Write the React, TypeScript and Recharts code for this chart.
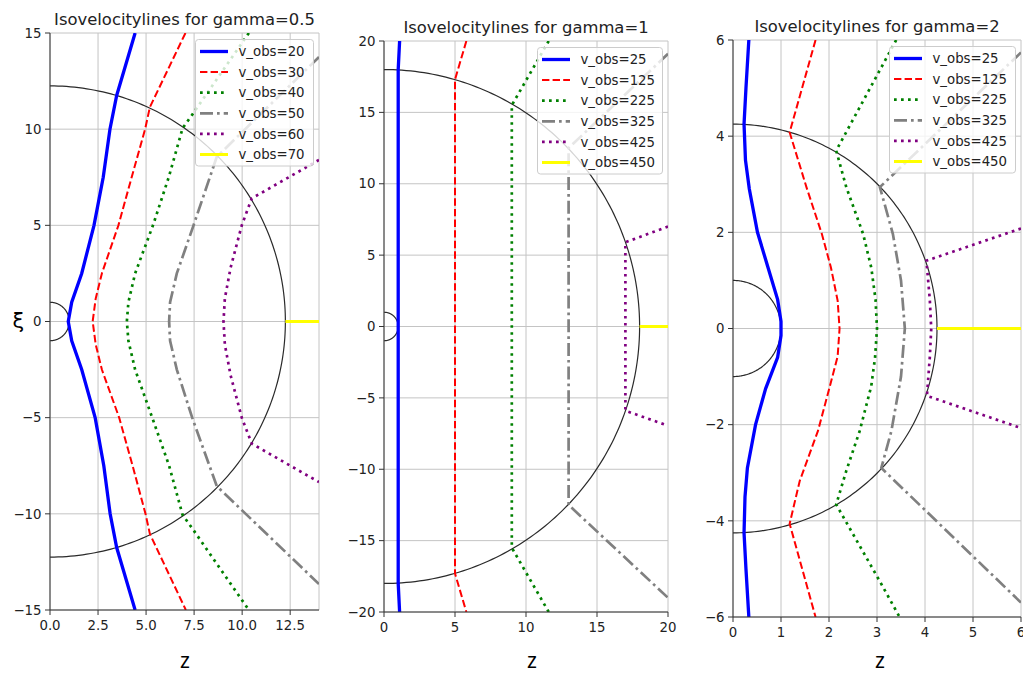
import React from 'react';
import { LineChart, Line, XAxis, YAxis, CartesianGrid, Legend } from 'recharts';

// ---------- gamma = 0.5 ----------
const G05_TITLE = 'Isovelocitylines for gamma=0.5';
const G05_XTICKS = [0, 2.5, 5, 7.5, 10, 12.5];
const G05_YTICKS = [-15, -10, -5, 0, 5, 10, 15];
const G05_LABELS = ['v_obs=20', 'v_obs=30', 'v_obs=40', 'v_obs=50', 'v_obs=60', 'v_obs=70'];
const G05_V20 = [[4.43, 15], [3.47, 11.75], [3.12, 10], [2.77, 7.5], [2.29, 5], [1.65, 2.5], [1.13, 1], [0.95, 0], [1.13, -1], [1.65, -2.5], [2.35, -5], [2.8, -7.5], [3.13, -10], [3.47, -11.75], [4.43, -15]];
const G05_V30 = [[7.05, 15], [5.2, 11.15], [4.95, 10], [4.25, 7.5], [3.56, 5], [2.7, 2.5], [2.38, 1.2], [2.22, 0], [2.38, -1.2], [2.7, -2.5], [3.6, -5], [4.3, -7.5], [4.97, -10], [5.2, -11.05], [7.07, -15]];
const G05_V40 = [[10.35, 15], [7.4, 10.75], [6.9, 10.05], [6.18, 7.5], [5.36, 5], [4.43, 2.5], [4.08, 1], [4.0, 0], [4.08, -1], [4.43, -2.5], [5.32, -5], [6.2, -7.5], [6.9, -10.05], [7.4, -10.75], [10.35, -15]];
const G05_V50 = [[14, 13.75], [8.68, 8.56], [7.47, 5], [6.6, 2.5], [6.25, 1], [6.2, 0], [6.25, -1], [6.6, -2.5], [7.4, -5], [8.68, -8.56], [14, -13.65]];
const G05_V60 = [[14, 8.4], [10.5, 6.4], [9.98, 5], [9.4, 2.8], [9.1, 1.2], [9.03, 0], [9.1, -1.2], [9.4, -2.8], [9.98, -5], [10.5, -6.35], [14, -8.35]];
const G05_V70 = [[12.25, 0], [14, 0]];
const G05_RADII = [1, 12.25];

// ---------- gamma = 1 ----------
const G1_TITLE = 'Isovelocitylines for gamma=1';
const G1_XTICKS = [0, 5, 10, 15, 20];
const G1_YTICKS = [-20, -15, -10, -5, 0, 5, 10, 15, 20];
const G1_LABELS = ['v_obs=25', 'v_obs=125', 'v_obs=225', 'v_obs=325', 'v_obs=425', 'v_obs=450'];
const G1_V25 = [[1.1, 20], [1.0, 18], [1.0, 0], [1.0, -18], [1.1, -20]];
const G1_V125 = [[5.8, 20], [5.0, 17.3], [5.0, -17.3], [5.8, -20]];
const G1_V225 = [[11.6, 20], [9.0, 15.5], [9.0, -15.5], [11.6, -20]];
const G1_V325 = [[20, 19.1], [13.0, 12.5], [13.0, -12.5], [20, -19.0]];
const G1_V425 = [[20, 7.0], [17.0, 5.9], [17.0, -5.9], [20, -6.95]];
const G1_V450 = [[18, 0], [20, 0]];
const G1_RADII = [1, 18];

// ---------- gamma = 2 ----------
const G2_TITLE = 'Isovelocitylines for gamma=2';
const G2_XTICKS = [0, 1, 2, 3, 4, 5, 6];
const G2_YTICKS = [-6, -4, -2, 0, 2, 4, 6];
const G2_LABELS = ['v_obs=25', 'v_obs=125', 'v_obs=225', 'v_obs=325', 'v_obs=425', 'v_obs=450'];
const G2_V25 = [[0.33, 6], [0.27, 5], [0.23, 4.25], [0.26, 3.5], [0.34, 2.9], [0.51, 2.0], [0.72, 1.3], [0.93, 0.6], [1.0, 0.15], [1.0, 0], [1.0, -0.15], [0.93, -0.6], [0.68, -1.25], [0.47, -2.0], [0.3, -2.9], [0.25, -3.5], [0.23, -4.25], [0.27, -5], [0.33, -6]];
const G2_V125 = [[1.72, 6], [1.18, 4.08], [1.53, 2.94], [1.85, 1.97], [2.04, 1.27], [2.18, 0.58], [2.22, 0], [2.18, -0.58], [2.01, -1.23], [1.77, -2.13], [1.39, -3.17], [1.18, -4.06], [1.72, -6]];
const G2_V225 = [[3.4, 6], [2.15, 3.7], [2.36, 2.94], [2.71, 1.97], [2.88, 1.27], [2.97, 0.6], [3.0, 0], [2.96, -0.6], [2.88, -1.2], [2.64, -2.13], [2.36, -2.96], [2.15, -3.66], [3.06, -5.26], [3.47, -6]];
const G2_V325 = [[6, 5.74], [3.06, 2.94], [3.33, 1.97], [3.5, 1.0], [3.58, 0], [3.5, -1.0], [3.3, -2.13], [3.09, -2.9], [6, -5.7]];
const G2_V425 = [[6, 2.08], [4.03, 1.41], [4.1, 0.6], [4.13, 0], [4.1, -0.6], [4.04, -1.4], [6, -2.07]];
const G2_V450 = [[4.25, 0], [6, 0]];
const G2_RADII = [1, 4.25];

// ---------- styles ----------
const FONT = "'DejaVu Sans', sans-serif";
const TEXT = '#222';
const SPINE = '#333';
const SERIES_STYLES = [
  { stroke: '#0000ff', width: 3.3, dash: undefined as string | undefined },
  { stroke: '#ff0000', width: 2, dash: '7.4 3.2' },
  { stroke: '#008000', width: 2.7, dash: '2.7 4.3' },
  { stroke: '#808080', width: 2.7, dash: '13 4 2.7 4' },
  { stroke: '#800080', width: 2.7, dash: '2.7 4.3' },
  { stroke: '#ffff00', width: 3, dash: undefined as string | undefined },
];

type Pt = { x: number; y: number };
const toPts = (arr: number[][]): Pt[] => arr.map(([x, y]) => ({ x, y }));
const semicircle = (r: number): Pt[] =>
  Array.from({ length: 181 }, (_, i) => {
    const t = Math.PI / 2 - (Math.PI * i) / 180;
    return { x: Math.max(0, r * Math.cos(t)), y: r * Math.sin(t) };
  });

const fmtMinus = (v: number, digits = 0) => {
  const s = Math.abs(v).toFixed(digits);
  return v < 0 ? '\u2212' + s : s;
};

type PanelCfg = {
  title: string;
  plotLeft: number;
  plotTop: number;
  plotW: number;
  plotH: number;
  xDomain: [number, number];
  yDomain: [number, number];
  xTicks: number[];
  yTicks: number[];
  xDigits: number;
  labels: string[];
  series: number[][][];
  radii: number[];
  legendW: number;
  zLabelX: number;
};

function LegendBox({ labels, width }: { labels: string[]; width: number }) {
  const rowH = 20.6;
  const h = 12.5 + rowH * (labels.length - 1) + 11;
  return (
    <svg width={width + 2} height={h + 2} style={{ display: 'block' }}>
      <rect x={0.5} y={0.5} width={width} height={h} rx={3} ry={3} fill="rgba(255,255,255,0.8)" stroke="#cccccc" strokeWidth={1} />
      {labels.map((lab, i) => {
        const st = SERIES_STYLES[i];
        const cy = 12.5 + rowH * i;
        return (
          <g key={lab}>
            <line x1={5} x2={33} y1={cy} y2={cy} stroke={st.stroke} strokeWidth={st.width} strokeDasharray={st.dash} />
            <text x={43.5} y={cy + 4.7} fontFamily={FONT} fontSize={13.3} fill={TEXT}>{lab}</text>
          </g>
        );
      })}
    </svg>
  );
}

const Y_AXIS_W = 50;
const RIGHT_PAD = 14;
const TOTAL_H = 673;

function Panel({ cfg }: { cfg: PanelCfg }) {
  const plotBottom = cfg.plotTop + cfg.plotH;
  const xAxisH = TOTAL_H - plotBottom - 1;
  const width = cfg.plotW + Y_AXIS_W + RIGHT_PAD;
  const margin = { top: cfg.plotTop, right: RIGHT_PAD, left: 0, bottom: 1 };
  const tickStyle = { fill: TEXT, fontSize: 13.3, fontFamily: FONT };
  return (
    <div style={{ position: 'absolute', left: cfg.plotLeft - Y_AXIS_W, top: 0 }}>
      <LineChart width={width} height={TOTAL_H} margin={margin}>
        <CartesianGrid stroke="#c4c4c4" strokeWidth={1} />
        <XAxis
          dataKey="x"
          type="number"
          domain={cfg.xDomain}
          ticks={cfg.xTicks}
          allowDataOverflow
          interval={0}
          height={xAxisH}
          tickSize={5}
          tickMargin={6}
          tick={tickStyle}
          tickFormatter={(v: number) => fmtMinus(v, cfg.xDigits)}
          axisLine={{ stroke: SPINE, strokeWidth: 1 }}
          tickLine={{ stroke: SPINE }}
        />
        <XAxis
          xAxisId="top"
          orientation="top"
          dataKey="x"
          type="number"
          domain={cfg.xDomain}
          allowDataOverflow
          height={0}
          tick={false}
          tickLine={false}
          axisLine={{ stroke: SPINE, strokeWidth: 1 }}
        />
        <YAxis
          type="number"
          domain={cfg.yDomain}
          ticks={cfg.yTicks}
          allowDataOverflow
          interval={0}
          width={Y_AXIS_W}
          tickSize={5}
          tickMargin={3.5}
          tick={tickStyle}
          tickFormatter={(v: number) => fmtMinus(v, 0)}
          axisLine={{ stroke: SPINE, strokeWidth: 1 }}
          tickLine={{ stroke: SPINE }}
        />
        <YAxis
          yAxisId="right"
          orientation="right"
          type="number"
          domain={cfg.yDomain}
          allowDataOverflow
          width={0}
          tick={false}
          tickLine={false}
          axisLine={{ stroke: SPINE, strokeWidth: 1 }}
        />
        {cfg.radii.map((r) => (
          <Line
            key={'c' + r}
            data={semicircle(r)}
            dataKey="y"
            type="linear"
            stroke="#2a2a2a"
            strokeWidth={1.2}
            dot={false}
            activeDot={false}
            legendType="none"
            isAnimationActive={false}
          />
        ))}
        {cfg.series.map((s, i) => (
          <Line
            key={cfg.labels[i]}
            name={cfg.labels[i]}
            data={toPts(s)}
            dataKey="y"
            type="linear"
            stroke={SERIES_STYLES[i].stroke}
            strokeWidth={SERIES_STYLES[i].width}
            strokeDasharray={SERIES_STYLES[i].dash}
            dot={false}
            activeDot={false}
            isAnimationActive={false}
          />
        ))}
        <Legend
          layout="vertical"
          align="center"
          verticalAlign="middle"
          content={() => <LegendBox labels={cfg.labels} width={cfg.legendW} />}
          wrapperStyle={{ left: cfg.plotW + Y_AXIS_W - 6.5 - cfg.legendW, top: cfg.plotTop + 5.5, width: cfg.legendW + 2, height: 'auto' }}
        />
      </LineChart>
    </div>
  );
}

const PANELS: PanelCfg[] = [
  {
    title: G05_TITLE, plotLeft: 50, plotTop: 33, plotW: 269, plotH: 577,
    xDomain: [0, 14], yDomain: [-15, 15], xTicks: G05_XTICKS, yTicks: G05_YTICKS, xDigits: 1,
    labels: G05_LABELS, series: [G05_V20, G05_V30, G05_V40, G05_V50, G05_V60, G05_V70], radii: G05_RADII,
    legendW: 118, zLabelX: 185,
  },
  {
    title: G1_TITLE, plotLeft: 384, plotTop: 41, plotW: 284, plotH: 571,
    xDomain: [0, 20], yDomain: [-20, 20], xTicks: G1_XTICKS, yTicks: G1_YTICKS, xDigits: 0,
    labels: G1_LABELS, series: [G1_V25, G1_V125, G1_V225, G1_V325, G1_V425, G1_V450], radii: G1_RADII,
    legendW: 125, zLabelX: 532,
  },
  {
    title: G2_TITLE, plotLeft: 733, plotTop: 40, plotW: 288, plotH: 577,
    xDomain: [0, 6], yDomain: [-6, 6], xTicks: G2_XTICKS, yTicks: G2_YTICKS, xDigits: 0,
    labels: G2_LABELS, series: [G2_V25, G2_V125, G2_V225, G2_V325, G2_V425, G2_V450], radii: G2_RADII,
    legendW: 126, zLabelX: 880,
  },
];

export default function App() {
  return (
    <div style={{ position: 'absolute', left: 0, top: 0, width: 1023, height: 673, background: '#fff', overflow: 'hidden' }}>
      {PANELS.map((p) => (
        <Panel key={p.title} cfg={p} />
      ))}
      <svg width={1023} height={673} style={{ position: 'absolute', left: 0, top: 0, pointerEvents: 'none' }}>
        {PANELS.map((p) => (
          <g key={'t' + p.title}>
            <text x={p.plotLeft + p.plotW / 2} y={p.plotTop - 8} textAnchor="middle" fontFamily={FONT} fontSize={16.4} fill={TEXT}>
              {p.title}
            </text>
            <text x={p.zLabelX} y={668} textAnchor="middle" fontFamily="'Noto Sans', sans-serif" fontSize={21} fill="#000">
              z
            </text>
          </g>
        ))}
        <text x={12.5} y={327.5} fontFamily={FONT} fontSize={21} fill="#000">{'\u03be'}</text>
      </svg>
    </div>
  );
}
